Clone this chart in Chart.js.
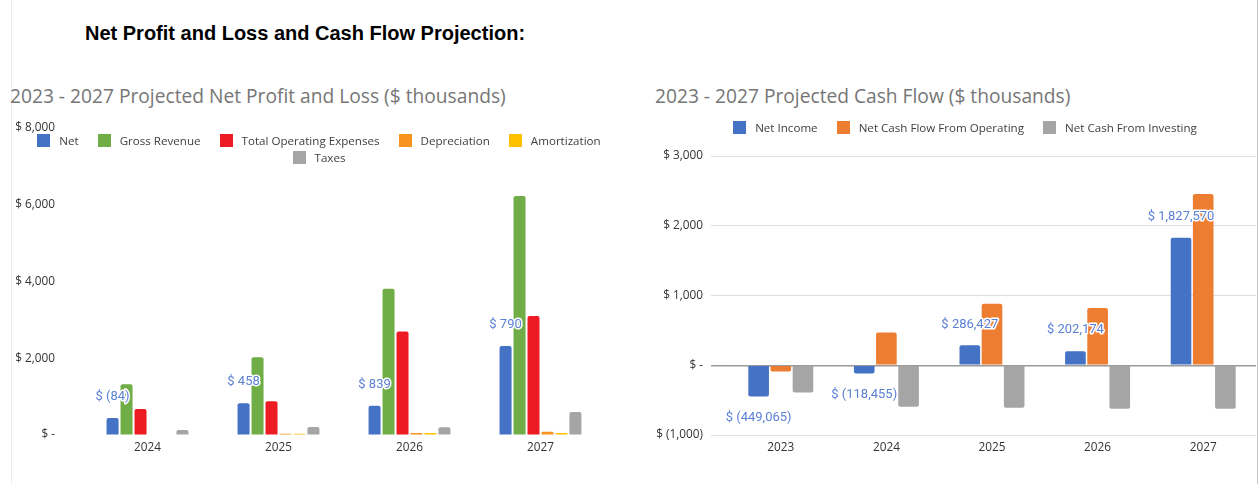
<!DOCTYPE html>
<html>
<head>
<meta charset="utf-8">
<script src="https://cdn.jsdelivr.net/npm/chart.js@4.4.1/dist/chart.umd.min.js"></script>
<style>
  body { margin: 0; background: #fff; width: 1258px; height: 484px; position: relative; overflow: hidden; }
  #title { position: absolute; left: 85px; top: 22px; font: bold 20px 'Liberation Sans', Arial, sans-serif; line-height: 22px; color: #000; }
  .chart-title { position: absolute; top: 84px; font: 19.2px 'Open Sans', sans-serif; line-height: 24px; color: #767676; white-space: nowrap; }
  .legend { position: absolute; display: flex; flex-wrap: wrap; justify-content: center; column-gap: 19px; font: 11.6px 'Open Sans', sans-serif; line-height: 17px; color: #404040; z-index: 2; }
  .legend .item { display: flex; align-items: center; white-space: nowrap; }
  .legend i { display: inline-block; width: 13px; height: 13px; margin-right: 9px; }
  .box { position: absolute; top: 120px; height: 364px; }
  .edge { position: absolute; top: 0; width: 1px; height: 484px; }
</style>
</head>
<body>
<div class="edge" style="left:11px;background:#ededed"></div>
<div class="edge" style="left:1257px;background:#c8c8c8"></div>
<div id="title">Net Profit and Loss and Cash Flow Projection:</div>
<div class="chart-title" style="left:10px">2023 - 2027 Projected Net Profit and Loss ($ thousands)</div>
<div class="chart-title" style="left:655px">2023 - 2027 Projected Cash Flow ($ thousands)</div>
<div class="box" style="left:0;width:630px"><canvas id="plChart"></canvas></div>
<div class="box" style="left:630px;width:628px"><canvas id="cfChart"></canvas></div>
<div id="plLegend" class="legend" style="left:20px;top:132px;width:598px"></div>
<div id="cfLegend" class="legend" style="left:700px;top:119px;width:530px"></div>
<script>
// Net profit and loss ($ thousands)
const plYears = ['2024', '2025', '2026', '2027'];
const plNet = [440, 830, 760, 2320];
const plGrossRevenue = [1325, 2025, 3810, 6230];
const plOperatingExpenses = [675, 880, 2700, 3100];
const plDepreciation = [0, 30, 50, 85];
const plAmortization = [0, 30, 50, 50];
const plTaxes = [130, 210, 200, 600];
const plNetLabels = ['$ (84)', '$ 458', '$ 839', '$ 790'];
const plTickValues = [0, 2000, 4000, 6000, 8000];

// Cash flow ($ thousands)
const cfYears = ['2023', '2024', '2025', '2026', '2027'];
const cfNetIncome = [-449, -118, 286, 202, 1828];
const cfOperating = [-90, 470, 880, 820, 2455];
const cfInvesting = [-390, -595, -610, -625, -625];
const cfNetIncomeLabels = ['$ (449,065)', '$ (118,455)', '$ 286,427', '$ 202,174', '$ 1,827,570'];
const cfTickValues = [-1000, 0, 1000, 2000, 3000];

Chart.defaults.font.family = "'Open Sans', sans-serif";
Chart.defaults.font.size = 11.8;
Chart.defaults.color = '#333';
Chart.defaults.animation = false;

function money(v) {
    if (v === 0) return '$ -';
    if (v < 0) return '$ (' + Math.abs(v).toLocaleString('en-US') + ')';
    return '$ ' + v.toLocaleString('en-US');
}

// labels above (or below) the first series' bars
const barLabels = {
    id: 'barLabels',
    afterDatasetsDraw: function(chart, args, opts) {
        var ctx = chart.ctx;
        var values = chart.data.datasets[0].data;
        ctx.save();
        ctx.font = '13px Roboto';
        ctx.textAlign = 'center';
        ctx.textBaseline = 'middle';
        ctx.lineJoin = 'round';
        ctx.lineWidth = 3;
        ctx.strokeStyle = '#fff';
        ctx.fillStyle = '#5b80d4';
        chart.getDatasetMeta(0).data.forEach(function(bar, i) {
            var y = values[i] < 0 ? bar.y + 21 : bar.y - 21;
            ctx.strokeText(opts.labels[i], bar.x, y);
            ctx.fillText(opts.labels[i], bar.x, y);
        });
        ctx.restore();
    }
};

function buildLegend(chart, id) {
    var box = document.getElementById(id);
    chart.data.datasets.forEach(function(ds) {
        var item = document.createElement('span');
        item.className = 'item';
        item.innerHTML = '<i style="background:' + ds.backgroundColor + '"></i>' + ds.label;
        box.appendChild(item);
    });
}

function bars(label, data, color) {
    return { label: label, data: data, backgroundColor: color, borderRadius: 2, borderSkipped: 'start' };
}

var plChart = new Chart(document.getElementById('plChart'), {
    type: 'bar',
    data: {
        labels: plYears,
        datasets: [
            bars('Net', plNet, '#4472c4'),
            bars('Gross Revenue', plGrossRevenue, '#70ad47'),
            bars('Total Operating Expenses', plOperatingExpenses, '#ed1c24'),
            bars('Depreciation', plDepreciation, '#f7931e'),
            bars('Amortization', plAmortization, '#ffc000'),
            bars('Taxes', plTaxes, '#a5a5a5')
        ]
    },
    options: {
        responsive: true,
        maintainAspectRatio: false,
        categoryPercentage: 0.64,
        barPercentage: 0.86,
        layout: { padding: { left: 12, right: 24, top: 8, bottom: 19 } },
        plugins: {
            legend: { display: false },
            tooltip: { enabled: false },
            barLabels: { labels: plNetLabels }
        },
        scales: {
            x: {
                grid: { display: false, drawTicks: false },
                border: { display: false },
                ticks: { padding: 6 },
                afterFit: function(axis) { axis.height = 30; }
            },
            y: {
                min: 0,
                max: 8000,
                // no visible grid: the invisible tick marks only push the labels left
                grid: { color: 'transparent', drawOnChartArea: false, tickLength: 26 },
                border: { display: false },
                afterBuildTicks: function(axis) { axis.ticks = plTickValues.map(function(v) { return { value: v }; }); },
                ticks: { padding: 1, callback: money },
                afterFit: function(axis) { axis.width = 70; }
            }
        }
    },
    plugins: [barLabels]
});

var cfChart = new Chart(document.getElementById('cfChart'), {
    type: 'bar',
    data: {
        labels: cfYears,
        datasets: [
            bars('Net Income', cfNetIncome, '#4472c4'),
            bars('Net Cash Flow From Operating', cfOperating, '#ed7d31'),
            bars('Net Cash From Investing', cfInvesting, '#a5a5a5')
        ]
    },
    options: {
        responsive: true,
        maintainAspectRatio: false,
        categoryPercentage: 0.63,
        barPercentage: 0.93,
        layout: { padding: { left: 0, right: 2, top: 36, bottom: 19 } },
        plugins: {
            legend: { display: false },
            tooltip: { enabled: false },
            barLabels: { labels: cfNetIncomeLabels }
        },
        scales: {
            x: {
                grid: { display: false, drawTicks: false },
                border: { display: false },
                ticks: { padding: 6 },
                afterFit: function(axis) { axis.height = 30; }
            },
            y: {
                min: -1000,
                max: 3000,
                border: { display: false },
                grid: {
                    tickLength: 17,
                    lineWidth: function(c) { return c.tick && c.tick.value === 0 ? 1.5 : 1; },
                    color: function(c) { return c.tick && c.tick.value === 0 ? '#9a9a9a' : '#dedede'; }
                },
                afterBuildTicks: function(axis) { axis.ticks = cfTickValues.map(function(v) { return { value: v }; }); },
                ticks: { padding: 8, callback: money },
                afterFit: function(axis) { axis.width = 98; }
            }
        }
    },
    plugins: [barLabels]
});

buildLegend(plChart, 'plLegend');
buildLegend(cfChart, 'cfLegend');
</script>
</body>
</html>
